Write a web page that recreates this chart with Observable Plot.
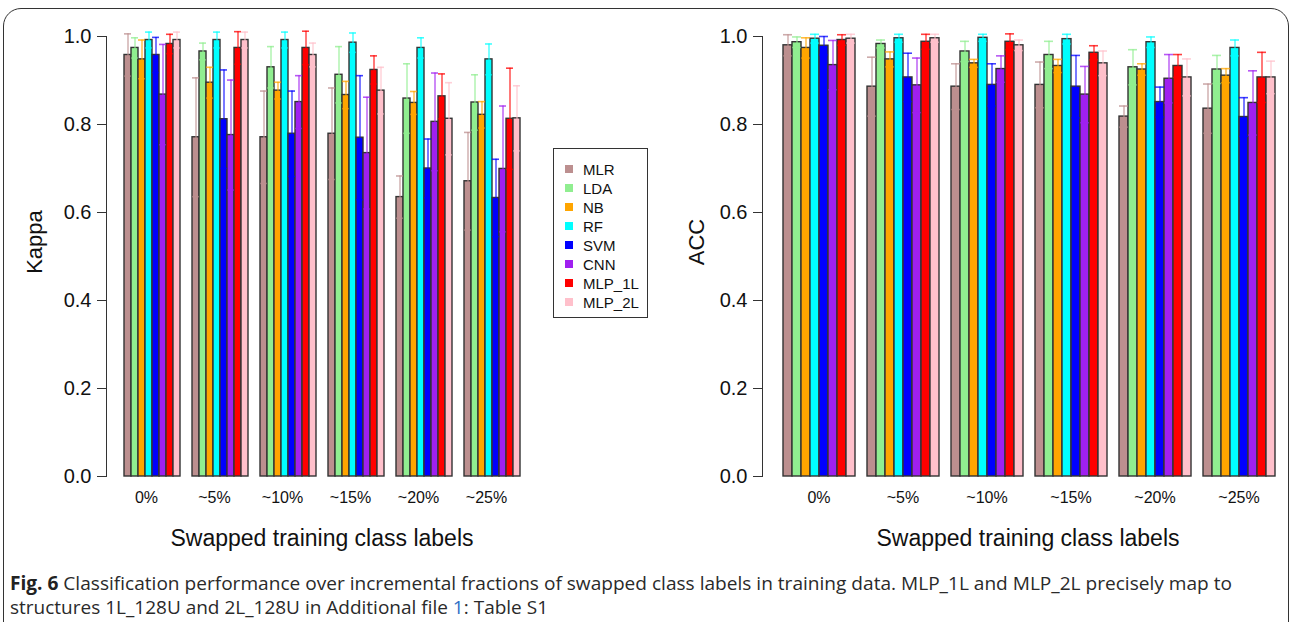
<!DOCTYPE html>
<html><head><meta charset="utf-8">
<script src="https://cdn.jsdelivr.net/npm/d3@7"></script>
<script src="https://cdn.jsdelivr.net/npm/@observablehq/plot@0.6"></script>
<style>
body{margin:0;background:#fff;}
#fig{position:relative;width:1292px;height:622px;overflow:hidden;font-family:"Liberation Sans",Arial,sans-serif;color:#111;}
#border{position:absolute;left:3px;top:8px;width:1286px;height:660px;border:1.5px solid #333;border-radius:18px;box-sizing:border-box;}
.chart{position:absolute;top:0;}
.ytitle{position:absolute;font-size:22px;transform:translate(-50%,-50%) rotate(-90deg);white-space:nowrap;}
.xtitle{position:absolute;font-size:23px;transform:translate(-50%,-50%);white-space:nowrap;}
#legend{position:absolute;left:553px;top:148px;width:95px;height:170px;border:1px solid #333;box-sizing:border-box;}
.li{position:absolute;left:0;font-size:15px;line-height:15px;white-space:nowrap;}
.li span.sw{position:absolute;left:11px;top:3px;width:8px;height:8px;}
.li span.tx{position:absolute;left:29px;top:0;}
.cap{position:absolute;left:10px;font-family:"Open Sans",sans-serif;font-size:19px;line-height:20px;white-space:nowrap;transform-origin:0 0;color:#2a2a2a;}
.cap b{font-weight:700;color:#222;}
</style></head>
<body>
<div id="fig">
  <div id="border"></div>
  <div id="left" class="chart" style="left:0px"></div>
  <div id="right" class="chart" style="left:660px"></div>
  <div class="ytitle" style="left:35px;top:242px">Kappa</div>
  <div class="ytitle" style="left:697px;top:242px">ACC</div>
  <div class="xtitle" style="left:322px;top:538px">Swapped training class labels</div>
  <div class="xtitle" style="left:1028px;top:538px">Swapped training class labels</div>
  <div id="legend"></div>
  <div class="cap" id="cap1" style="top:573px"><b>Fig. 6</b> Classification performance over incremental fractions of swapped class labels in training data. MLP_1L and MLP_2L precisely map to</div>
  <div class="cap" id="cap2" style="top:597px">structures 1L_128U and 2L_128U in Additional file <span style="color:#2f6fc6">1</span>: Table S1</div>
</div>
<script>
const groups = ["0%", "~5%", "~10%", "~15%", "~20%", "~25%"];
const models = ["MLR", "LDA", "NB", "RF", "SVM", "CNN", "MLP_1L", "MLP_2L"];
const colors = ["#BC8F8F", "#90EE90", "#FFA500", "#00FFFF", "#0000FF", "#A020F0", "#FF0000", "#FFC0CB"];
const yTicks = [0, 0.2, 0.4, 0.6, 0.8, 1.0];

// Kappa: rows = models, cols = groups
const kappaMean = [
  [0.958, 0.771, 0.771, 0.779, 0.635, 0.671],
  [0.974, 0.966, 0.930, 0.913, 0.859, 0.850],
  [0.948, 0.895, 0.877, 0.867, 0.849, 0.822],
  [0.992, 0.992, 0.992, 0.986, 0.974, 0.948],
  [0.958, 0.812, 0.779, 0.770, 0.700, 0.633],
  [0.868, 0.776, 0.851, 0.735, 0.806, 0.699],
  [0.983, 0.974, 0.974, 0.924, 0.864, 0.813],
  [0.992, 0.992, 0.958, 0.877, 0.813, 0.814]
];
const kappaSd = [
  [0.048, 0.135, 0.105, 0.104, 0.048, 0.111],
  [0.023, 0.019, 0.047, 0.064, 0.079, 0.063],
  [0.044, 0.035, 0.019, 0.031, 0.026, 0.030],
  [0.018, 0.018, 0.018, 0.022, 0.023, 0.035],
  [0.040, 0.112, 0.097, 0.141, 0.067, 0.088],
  [0.114, 0.125, 0.060, 0.127, 0.111, 0.143],
  [0.022, 0.037, 0.038, 0.032, 0.051, 0.115],
  [0.018, 0.018, 0.027, 0.053, 0.082, 0.074]
];
// ACC
const accMean = [
  [0.980, 0.886, 0.886, 0.890, 0.818, 0.836],
  [0.987, 0.983, 0.966, 0.958, 0.930, 0.925],
  [0.974, 0.948, 0.939, 0.933, 0.925, 0.911],
  [0.995, 0.996, 0.997, 0.994, 0.987, 0.974],
  [0.979, 0.907, 0.890, 0.886, 0.851, 0.817],
  [0.935, 0.889, 0.926, 0.868, 0.904, 0.849],
  [0.992, 0.988, 0.988, 0.963, 0.933, 0.907],
  [0.995, 0.996, 0.980, 0.939, 0.907, 0.907]
];
const accSd = [
  [0.024, 0.067, 0.052, 0.052, 0.024, 0.056],
  [0.012, 0.009, 0.023, 0.031, 0.040, 0.032],
  [0.023, 0.017, 0.009, 0.015, 0.013, 0.016],
  [0.010, 0.009, 0.008, 0.011, 0.012, 0.018],
  [0.021, 0.055, 0.048, 0.071, 0.034, 0.044],
  [0.056, 0.062, 0.030, 0.064, 0.055, 0.073],
  [0.012, 0.017, 0.018, 0.016, 0.026, 0.057],
  [0.010, 0.009, 0.012, 0.028, 0.042, 0.037]
];

function chart(mean, sd, o) {
  const rows = [];
  models.forEach((m, i) => groups.forEach((g, j) =>
    rows.push({model: m, group: g, v: mean[i][j], lo: mean[i][j] - sd[i][j], hi: mean[i][j] + sd[i][j]})));
  const n = groups.length, pIn = 1 / 9;
  const range = o.width - o.ml - o.mr;
  const po = (range / o.step - (n - pIn)) / 2;
  const align = o.lead / (range - o.step * (n - pIn));
  return Plot.plot({
    width: o.width, height: 560,
    marginLeft: o.ml, marginRight: o.mr, marginTop: 36, marginBottom: 84,
    style: {background: "transparent", fontFamily: "'Liberation Sans', Arial, sans-serif", color: "#111", overflow: "visible"},
    fx: {domain: groups, paddingInner: pIn, paddingOuter: po, align: align, label: null},
    x: {domain: models, padding: 0, axis: null},
    y: {domain: [0, 1], label: null, axis: null},
    color: {domain: models, range: colors},
    marks: [
      Plot.barY(rows, {fx: "group", x: "model", y: "v", fill: "model", stroke: "#333", strokeWidth: 1.4, inset: 0}),
      Plot.ruleX(rows, {fx: "group", x: "model", y1: "lo", y2: "hi", stroke: "model", strokeOpacity: 0.7, strokeWidth: 1.5}),
      Plot.tickY(rows, {fx: "group", x: "model", y: "hi", stroke: "model", strokeOpacity: 0.75, strokeWidth: 1.6}),
      Plot.tickY(rows, {fx: "group", x: "model", y: "lo", stroke: "model", strokeOpacity: 0.6, strokeWidth: 1.5}),
      Plot.axisY({ticks: yTicks, tickFormat: d3.format(".1f"), tickSize: 9, tickPadding: 6, fontSize: 20, dx: -o.lead, label: null, stroke: "#333"}),
      Plot.frame({anchor: "left", facetAnchor: "left", dx: -o.lead, stroke: "#333"}),
      Plot.axisFx({anchor: "bottom", tickSize: 0, tickPadding: 15, fontSize: 16, dx: o.labDx, label: null})
    ]
  });
}

document.getElementById("left").append(chart(kappaMean, kappaSd, {width: 560, ml: 105, mr: 21, step: 68.2, lead: 16, labDx: -6}));
document.getElementById("right").append(chart(accMean, accSd, {width: 632, ml: 102, mr: 0, step: 84, lead: 19, labDx: 0}));

const lg = document.getElementById("legend");
models.forEach((m, i) => {
  const d = document.createElement("div");
  d.className = "li";
  d.style.top = (13 + i * 19) + "px";
  d.innerHTML = `<span class="sw" style="background:${colors[i]}"></span><span class="tx">${m}</span>`;
  lg.append(d);
});

function fit(id, w) {
  const el = document.getElementById(id);
  const r = el.getBoundingClientRect().width;
  el.style.transform = `scaleX(${w / r})`;
}
fit("cap1", 1222);
fit("cap2", 538);
</script>
</body></html>
